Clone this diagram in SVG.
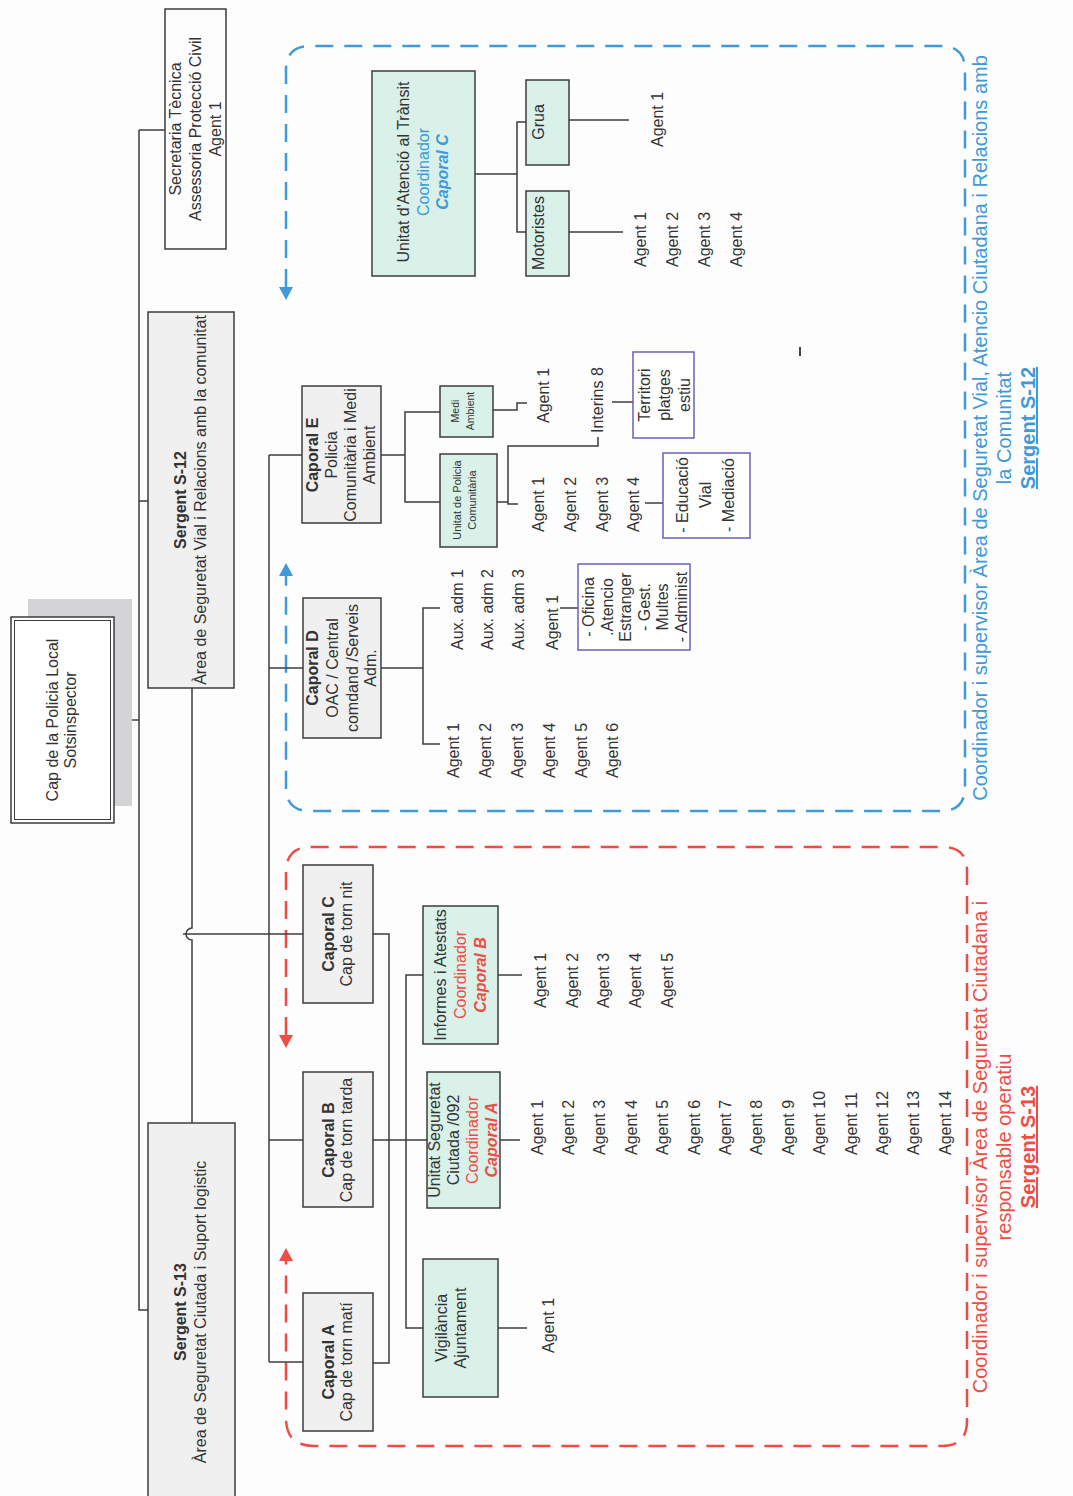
<svg xmlns="http://www.w3.org/2000/svg" width="1073" height="1496" viewBox="0 0 1073 1496">
<style>
text{font-family:"Liberation Sans",Arial,Helvetica,sans-serif;font-size:16px;fill:#333;}
.m{text-anchor:middle}
.b{font-weight:bold}
.bi{font-weight:bold;font-style:italic}
.s11{font-size:11px}
.s10{font-size:10.5px}
.lab{font-size:20px}
.u{text-decoration:underline}
.box{fill:#f0f0f0;stroke:#3c3c3c;stroke-width:1.5}
.wbox{fill:#fdfdfd;stroke:#3c3c3c;stroke-width:1.5}
.tbox{fill:#d9f1e9;stroke:#3c3c3c;stroke-width:1.5}
.pbox{fill:#ffffff;stroke:#6a60b8;stroke-width:1.5}
.ln{fill:none;stroke:#3c3c3c;stroke-width:1.5}
.bd{fill:none;stroke:#3e9ad8;stroke-width:2.5;stroke-dasharray:18 11}
.rd{fill:none;stroke:#ee4d46;stroke-width:2.5;stroke-dasharray:18 11}
.bf{fill:#3e9ad8}
.rf{fill:#ee4d46}
</style>
<rect x="0" y="0" width="1073" height="1496" fill="#fdfdfd"/>

<g id="regions">
  <path class="bd" d="M286,287 V70 Q286,46 310,46 H941 Q965,46 965,70 V787 Q965,811 941,811 H310 Q286,811 286,787 V576"/>
  <polygon class="bf" points="279,287 293,287 286,300"/>
  <polygon class="bf" points="279,576 293,576 286,563"/>
  <path class="rd" d="M286,1035 V872 Q286,847 311,847 H943 Q967,847 967,871 V1421 Q967,1446 942,1446 H314 Q286,1446 286,1418 V1261"/>
  <polygon class="rf" points="279,1035 293,1035 286,1048"/>
  <polygon class="rf" points="279,1261 293,1261 286,1248"/>
</g>

<g id="connectors">
  <path class="ln" d="M139,130 H165"/>
  <path class="ln" d="M139,130 V1310 H148"/>
  <path class="ln" d="M139,501 H148"/>
  <path class="ln" d="M114,720 H139"/>
  <path class="ln" d="M192,688 V928 A6,6 0 0 0 192,940 V1123"/>
  <path class="ln" d="M183,934 H303"/>
  <path class="ln" d="M269,455 V1362"/>
  <path class="ln" d="M269,455 H302"/>
  <path class="ln" d="M269,668 H303"/>
  <path class="ln" d="M269,1140 H303"/>
  <path class="ln" d="M269,1362 H303"/>
  <path class="ln" d="M381,455 H405"/>
  <path class="ln" d="M440,412 H405 V502 H440"/>
  <path class="ln" d="M493,410 H517 V403 H527"/>
  <path class="ln" d="M497,502 H508"/>
  <path class="ln" d="M598,437 V446 H508 V504 H518"/>
  <path class="ln" d="M612,402 H633"/>
  <path class="ln" d="M645,503 H663"/>
  <path class="ln" d="M381,668 H423"/>
  <path class="ln" d="M440,608 H423 V744 H440"/>
  <path class="ln" d="M560,608 H578"/>
  <path class="ln" d="M475,174 H517"/>
  <path class="ln" d="M526,122 H517 V232 H526"/>
  <path class="ln" d="M569,120 H629"/>
  <path class="ln" d="M569,232 H623"/>
  <path class="ln" d="M373,934 H389 V1363 H373"/>
  <path class="ln" d="M373,1140 H427"/>
  <path class="ln" d="M423,975 H406 V1328 H423"/>
  <path class="ln" d="M498,975 H522"/>
  <path class="ln" d="M500,1140 H520"/>
  <path class="ln" d="M498,1328 H527"/>
  <path d="M800,347 V356" stroke="#444" stroke-width="2"/>
</g>

<g id="cap">
  <rect x="28" y="599" width="104" height="207" fill="#d4d4d7"/>
  <rect x="11" y="617" width="103" height="206" fill="#ffffff" stroke="#3c3c3c" stroke-width="1.5"/>
  <rect x="14.5" y="620.5" width="96" height="199" fill="none" stroke="#3c3c3c" stroke-width="1"/>
  <text class="m" transform="translate(0,720) rotate(-90)"><tspan x="0" y="58">Cap de la Policia Local</tspan><tspan x="0" y="76">Sotsinspector</tspan></text>
</g>

<g id="secretaria">
  <rect class="wbox" x="165" y="9" width="61" height="240"/>
  <text class="m" transform="translate(0,129) rotate(-90)"><tspan x="0" y="181">Secretaria Tècnica</tspan><tspan x="0" y="201">Assessoria Protecció Civil</tspan><tspan x="0" y="221">Agent 1</tspan></text>
</g>

<g id="sergent-s12">
  <rect class="box" x="148" y="312" width="86" height="376"/>
  <text class="m" transform="translate(0,500) rotate(-90)"><tspan x="0" y="186" class="b">Sergent S-12</tspan><tspan x="0" y="206">Àrea de Seguretat Vial i Relacions amb la comunitat</tspan></text>
</g>

<g id="sergent-s13">
  <rect class="box" x="148" y="1123" width="87" height="380"/>
  <text class="m" transform="translate(0,1312) rotate(-90)"><tspan x="0" y="186" class="b">Sergent S-13</tspan><tspan x="0" y="206">Àrea de Seguretat Ciutada i Suport logistic</tspan></text>
</g>

<g id="caporal-e">
  <rect class="box" x="302" y="386" width="79" height="137"/>
  <text class="m" transform="translate(0,455) rotate(-90)"><tspan x="0" y="318" class="b">Caporal E</tspan><tspan x="0" y="337">Policia</tspan><tspan x="0" y="356">Comunitària i Medi</tspan><tspan x="0" y="375">Ambient</tspan></text>
</g>

<g id="caporal-d">
  <rect class="box" x="303" y="598" width="78" height="140"/>
  <text class="m" transform="translate(0,668) rotate(-90)"><tspan x="0" y="318" class="b">Caporal D</tspan><tspan x="0" y="338">OAC / Central</tspan><tspan x="0" y="358">comdand /Serveis</tspan><tspan x="0" y="376">Adm.</tspan></text>
</g>

<g id="caporal-c">
  <rect class="box" x="303" y="865" width="70" height="138"/>
  <text class="m" transform="translate(0,934) rotate(-90)"><tspan x="0" y="334" class="b">Caporal C</tspan><tspan x="0" y="352">Cap de torn nit</tspan></text>
</g>

<g id="caporal-b">
  <rect class="box" x="303" y="1072" width="70" height="135"/>
  <text class="m" transform="translate(0,1140) rotate(-90)"><tspan x="0" y="334" class="b">Caporal B</tspan><tspan x="0" y="352">Cap de torn tarda</tspan></text>
</g>

<g id="caporal-a">
  <rect class="box" x="303" y="1293" width="70" height="138"/>
  <text class="m" transform="translate(0,1362) rotate(-90)"><tspan x="0" y="334" class="b">Caporal A</tspan><tspan x="0" y="352">Cap de torn matí</tspan></text>
</g>

<g id="transit">
  <rect class="tbox" x="372" y="71" width="103" height="205"/>
  <text class="m" transform="translate(0,172) rotate(-90)"><tspan x="0" y="409">Unitat d'Atenció al Trànsit</tspan><tspan x="0" y="429" class="bf">Coordinador</tspan><tspan x="0" y="448" class="bf bi">Caporal C</tspan></text>
</g>

<g id="grua">
  <rect class="tbox" x="526" y="80" width="43" height="85"/>
  <text class="m" transform="translate(0,122) rotate(-90)"><tspan x="0" y="544">Grua</tspan></text>
  <text transform="translate(0,147) rotate(-90)"><tspan x="0" y="663">Agent 1</tspan></text>
</g>

<g id="motoristes">
  <rect class="tbox" x="526" y="191" width="43" height="85"/>
  <text class="m" transform="translate(0,233) rotate(-90)"><tspan x="0" y="544">Motoristes</tspan></text>
  <text transform="translate(0,267) rotate(-90)"><tspan x="0" y="646">Agent 1</tspan><tspan x="0" y="678">Agent 2</tspan><tspan x="0" y="710">Agent 3</tspan><tspan x="0" y="742">Agent 4</tspan></text>
</g>

<g id="medi-ambient">
  <rect class="tbox" x="440" y="386" width="53" height="51"/>
  <text class="m s10" transform="translate(0,411) rotate(-90)"><tspan x="0" y="459">Medi</tspan><tspan x="0" y="474">Ambient</tspan></text>
  <text transform="translate(0,423) rotate(-90)"><tspan x="0" y="549">Agent 1</tspan></text>
</g>

<g id="policia-comunitaria">
  <rect class="tbox" x="440" y="454" width="57" height="93"/>
  <text class="m s11" transform="translate(0,500) rotate(-90)"><tspan x="0" y="461">Unitat de Policia</tspan><tspan x="0" y="476">Comunitària</tspan></text>
  <text transform="translate(0,433) rotate(-90)"><tspan x="0" y="603">Interins 8</tspan></text>
  <text transform="translate(0,532) rotate(-90)"><tspan x="0" y="544">Agent 1</tspan><tspan x="0" y="576">Agent 2</tspan><tspan x="0" y="608">Agent 3</tspan><tspan x="0" y="639">Agent 4</tspan></text>
</g>

<g id="territori">
  <rect class="pbox" x="633" y="352" width="61" height="86"/>
  <text class="m" transform="translate(0,395) rotate(-90)"><tspan x="0" y="650">Territori</tspan><tspan x="0" y="670">platges</tspan><tspan x="0" y="690">estiu</tspan></text>
</g>

<g id="educacio">
  <rect class="pbox" x="663" y="453" width="87" height="85"/>
  <text class="m" transform="translate(0,495) rotate(-90)"><tspan x="0" y="688">- Educació</tspan><tspan x="0" y="711">Vial</tspan><tspan x="0" y="734">- Mediació</tspan></text>
</g>

<g id="caporal-d-staff">
  <text transform="translate(0,650) rotate(-90)"><tspan x="0" y="463">Aux. adm 1</tspan><tspan x="0" y="493">Aux. adm 2</tspan><tspan x="0" y="524">Aux. adm 3</tspan><tspan x="0" y="558">Agent 1</tspan></text>
  <text transform="translate(0,778) rotate(-90)"><tspan x="0" y="459">Agent 1</tspan><tspan x="0" y="491">Agent 2</tspan><tspan x="0" y="523">Agent 3</tspan><tspan x="0" y="555">Agent 4</tspan><tspan x="0" y="587">Agent 5</tspan><tspan x="0" y="618">Agent 6</tspan></text>
</g>

<g id="oficina">
  <rect class="pbox" x="578" y="564" width="112" height="86"/>
  <text class="m" transform="translate(0,607) rotate(-90)"><tspan x="0" y="594">- Oficina</tspan><tspan x="0" y="612.5">.Atencio</tspan><tspan x="0" y="631">Estranger</tspan><tspan x="0" y="649.5">- Gest.</tspan><tspan x="0" y="668">Multes</tspan><tspan x="0" y="686.5">- Administ</tspan></text>
</g>

<g id="informes">
  <rect class="tbox" x="423" y="906" width="75" height="138"/>
  <text class="m" transform="translate(0,975) rotate(-90)"><tspan x="0" y="446">Informes i Atestats</tspan><tspan x="0" y="466" class="rf">Coordinador</tspan><tspan x="0" y="486" class="rf bi">Caporal B</tspan></text>
  <text transform="translate(0,1008) rotate(-90)"><tspan x="0" y="546">Agent 1</tspan><tspan x="0" y="578">Agent 2</tspan><tspan x="0" y="609">Agent 3</tspan><tspan x="0" y="641">Agent 4</tspan><tspan x="0" y="673">Agent 5</tspan></text>
</g>

<g id="seguretat-ciutada">
  <rect class="tbox" x="427" y="1072" width="73" height="136"/>
  <text class="m" transform="translate(0,1140) rotate(-90)"><tspan x="0" y="440">Unitat Seguretat</tspan><tspan x="0" y="459">Ciutada /092</tspan><tspan x="0" y="478" class="rf">Coordinador</tspan><tspan x="0" y="497" class="rf bi">Caporal A</tspan></text>
  <text transform="translate(0,1155) rotate(-90)"><tspan x="0" y="542.5">Agent 1</tspan><tspan x="0" y="573.9">Agent 2</tspan><tspan x="0" y="605.3">Agent 3</tspan><tspan x="0" y="636.7">Agent 4</tspan><tspan x="0" y="668.1">Agent 5</tspan><tspan x="0" y="699.5">Agent 6</tspan><tspan x="0" y="730.9">Agent 7</tspan><tspan x="0" y="762.3">Agent 8</tspan><tspan x="0" y="793.7">Agent 9</tspan><tspan x="0" y="825.1">Agent 10</tspan><tspan x="0" y="856.5">Agent 11</tspan><tspan x="0" y="887.9">Agent 12</tspan><tspan x="0" y="919.3">Agent 13</tspan><tspan x="0" y="950.7">Agent 14</tspan></text>
</g>

<g id="vigilancia">
  <rect class="tbox" x="423" y="1259" width="75" height="138"/>
  <text class="m" transform="translate(0,1328) rotate(-90)"><tspan x="0" y="447">Vigilància</tspan><tspan x="0" y="466">Ajuntament</tspan></text>
  <text transform="translate(0,1353) rotate(-90)"><tspan x="0" y="554">Agent 1</tspan></text>
</g>

<g id="label-s12">
  <text class="m lab" transform="translate(0,428) rotate(-90)"><tspan x="0" y="987" class="bf">Coordinador i supervisor Àrea de Seguretat Vial, Atencio Ciutadana i Relacions amb</tspan><tspan x="0" y="1011" class="bf">la Comunitat</tspan><tspan x="0" y="1035" class="bf b u">Sergent S-12</tspan></text>
</g>

<g id="label-s13">
  <text class="m lab" transform="translate(0,1147) rotate(-90)"><tspan x="0" y="987" class="rf">Coordinador i supervisor Àrea de Seguretat Ciutadana i</tspan><tspan x="0" y="1011" class="rf">responsable operatiu</tspan><tspan x="0" y="1035" class="rf b u">Sergent S-13</tspan></text>
</g>
</svg>
